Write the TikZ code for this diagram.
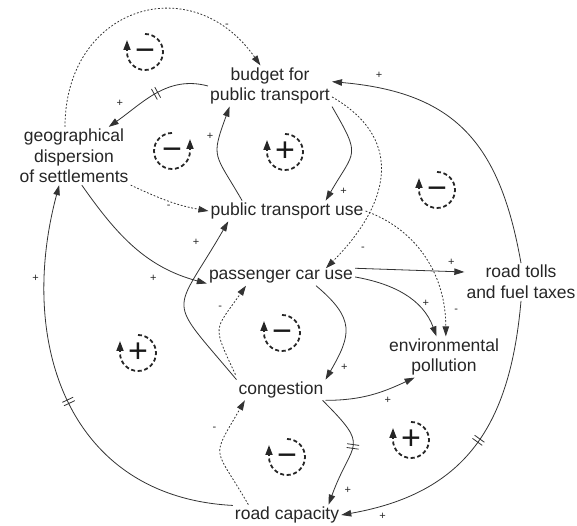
\documentclass[tikz,border=0pt]{standalone}
\usepackage{fontspec}
\setmainfont{Liberation Sans}
\usepackage{tikz}
\usetikzlibrary{arrows.meta}

\newcommand{\delaybars}{\rule{.8pt}{12pt}\hspace{3pt}\rule{.8pt}{12pt}}
\newcommand{\cwloop}[1]{\draw[loopcirc] (#1.center) ++(90:18) arc[start angle=90,end angle=-180,radius=18] -- ++(0,12);}
\newcommand{\ccwloop}[1]{\draw[loopcirc] (#1.center) ++(90:18) arc[start angle=90,end angle=360,radius=18] -- ++(0,12);}

\begin{document}
\begin{tikzpicture}[x=1pt,y=1pt,
	var/.style={align=center,inner sep=2pt,text=black!85,font=\fontsize{17.5}{20.5}\selectfont},
	fb/.style={-{Triangle[length=10pt,width=6.5pt]},line width=.8pt,color=black!80},
	weak/.style={fb,dash pattern=on 1.8pt off 1.8pt},
	pol/.style={font=\fontsize{11}{11}\selectfont,inner sep=2pt,text=black!85},
	bars/.style={sloped,inner sep=0pt,pos=.5,text=black!80},
	loopsign/.style={inner sep=0pt,text height=20pt,text depth=0pt,text=black!90,font=\fontsize{34}{34}\selectfont},
	loopcirc/.style={line width=1.8pt,draw=black!85,dash pattern=on 4pt off 2.6pt,-{Triangle[length=10pt,width=7pt]}}]
	\useasboundingbox (0, 0) rectangle (577, 526);

	\node[var] (budget) at (270, 440)   {budget for\\public transport};
	\node[var] (geo) at (74, 370)       {geographical\\dispersion\\of settlements};
	\node[var] (ptu) at (287, 315)      {public transport use};
	\node[var] (pcu) at (281, 249)      {passenger car use};
	\node[var] (tolls) at (521, 244)    {road tolls\\and fuel taxes};
	\node[var] (env) at (444, 169)      {environmental\\pollution};
	\node[var] (cong) at (281, 136)     {congestion};
	\node[var] (rcap) at (287, 11)      {road capacity};

	\path[weak] ([xshift=-9pt]geo.north) edge[out=90,in=125,looseness=1.5] node[pol,pos=.82,right=4pt]{-} (budget.115);
	\path[fb] (budget.west) edge[out=165,in=35] node[bars]{\delaybars} node[pol,pos=.8,above left=3pt]{+} (geo.40);
	\path[fb] (ptu.167) edge[out=120,in=250,looseness=1.5] node[pol,pos=.75,left=4pt]{+} (budget.207);
	\path[fb] (budget.south east) edge[out=-60,in=60,looseness=1.6] node[pol,pos=.87,below right=2pt]{+} (ptu.15);
	\path[weak] (budget.-10) edge[out=-30,in=45,looseness=1.3] node[pol,pos=.85,below right=4pt,xshift=4pt]{-} (pcu.11);
	\path[weak] (ptu.east) edge[out=-20,in=90] node[pol,pos=.85,right=8pt]{-} (env.85);
	\path[weak] (geo.south east) edge[out=-25,in=170] node[pol,pos=.5,below=2pt]{-} (ptu.west);
	\path[fb] (geo.-75) edge[out=-55,in=165] node[pol,pos=.65,below=12pt]{+} (pcu.185);
	\path[fb] (cong.north west) edge[out=130,in=240,looseness=1.8] node[pol,pos=.92,left=14pt]{+} (ptu.190);
	\path[weak] ([shift={(-1,5)}]cong.north west) edge[out=115,in=235,looseness=1.6] node[pol,pos=.8,left=6pt]{-} (pcu.194);
	\path[fb] (pcu.-14) edge[out=-40,in=60,looseness=1.4] node[pol,pos=.9,right=6pt]{+} (cong.north east);
	\path[fb] (pcu.north east) edge node[pol,pos=.88,above=4pt]{+} (tolls.170);
	\path[fb] (pcu.east) edge[out=-10,in=110] node[pol,pos=.7,above right]{+} (env.110);
	\path[fb] (tolls.north) edge[out=100,in=-5,looseness=1.2] node[pol,pos=.86,above=8pt]{+} (budget.4);
	\path[fb] (tolls.south) edge[out=-95,in=10,looseness=1.15] node[bars,pos=.47]{\delaybars} node[pol,pos=.88,below=6pt]{+} (rcap.east);
	\path[fb] (cong.south east) edge[out=0,in=205] node[pol,pos=.7,below=6pt]{+} (env.215);
	\path[fb] (cong.-14) edge[out=-45,in=70,looseness=1.7] node[bars]{\delaybars} node[pol,pos=.92,right=8pt]{+} (rcap.14);
	\path[weak] (rcap.165) edge[out=120,in=240,looseness=1.7] node[pol,pos=.8,left=10pt]{-} (cong.196);
	\path[fb] (rcap.170) edge[out=177,in=-105,looseness=1.15] node[bars]{\delaybars} node[pol,pos=.8,left=4pt]{+} (geo.243);

	\node[loopsign] (b1) at (145, 474)  {−};
	\node[loopsign] (b2) at (172, 375)  {−};
	\node[loopsign] (r1) at (285, 374)  {+};
	\node[loopsign] (b3) at (437, 336)  {−};
	\node[loopsign] (r2) at (138, 173)  {+};
	\node[loopsign] (b4) at (282, 193)  {−};
	\node[loopsign] (b5) at (287, 69)   {−};
	\node[loopsign] (r3) at (411, 86)   {+};
	\cwloop{b1}
	\ccwloop{b2}
	\cwloop{r1}
	\cwloop{b3}
	\cwloop{r2}
	\cwloop{b4}
	\cwloop{b5}
	\cwloop{r3}
\end{tikzpicture}
\end{document}
